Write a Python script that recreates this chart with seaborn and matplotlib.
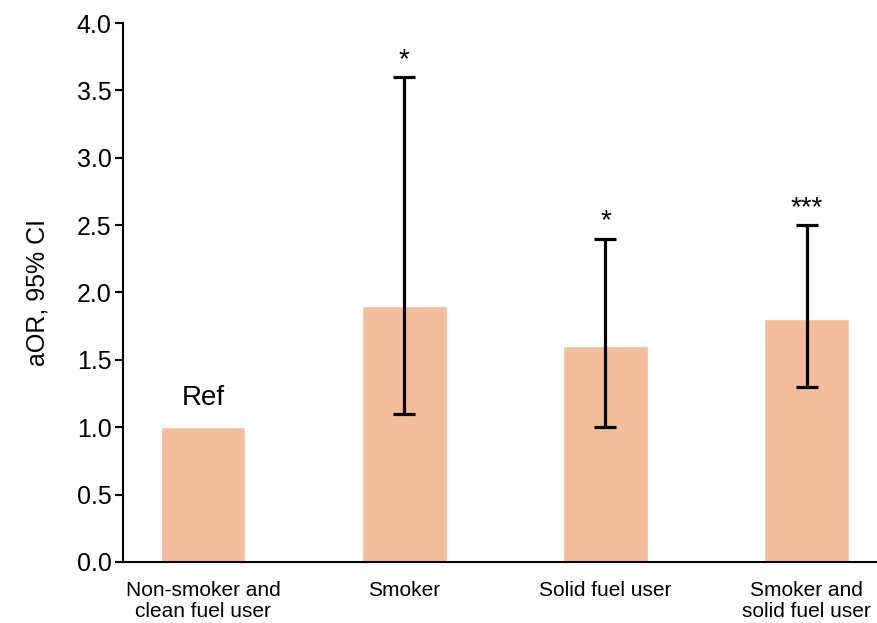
import pandas as pd
import seaborn as sns
import matplotlib.pyplot as plt

# Data
groups = ['Non-smoker and\nclean fuel user', 'Smoker', 'Solid fuel user', 'Smoker and\nsolid fuel user']
aor = [1.0, 1.9, 1.6, 1.8]
ci_low = [None, 1.1, 1.0, 1.3]
ci_high = [None, 3.6, 2.4, 2.5]
labels = ['Ref', '*', '*', '***']

df = pd.DataFrame({'group': groups, 'aor': aor})

sns.set_theme(style='ticks')
plt.rcParams['font.family'] = ['Liberation Sans', 'DejaVu Sans']
plt.rcParams['text.color'] = 'black'
plt.rcParams['axes.labelcolor'] = 'black'

fig = plt.figure(figsize=(8.77, 6.23), dpi=100)
ax = fig.add_axes([0.140, 0.098, 0.860, 0.865])

sns.barplot(data=df, x='group', y='aor', color='#F4BE9C', saturation=1, width=0.42, ax=ax)

for i in range(len(groups)):
    if ci_low[i] is not None:
        ax.errorbar(i, aor[i], yerr=[[aor[i] - ci_low[i]], [ci_high[i] - aor[i]]],
                    fmt='none', ecolor='black', elinewidth=2.3, capsize=8, capthick=2.3)
        ax.text(i, ci_high[i] + 0.03, labels[i], ha='center', va='bottom', fontsize=20)
    else:
        ax.text(i, aor[i] + 0.12, labels[i], ha='center', va='bottom', fontsize=20)

ax.set_ylim(0, 4.0)
ax.set_xlim(-0.4, 3.35)
ax.set_yticks([0, 0.5, 1.0, 1.5, 2.0, 2.5, 3.0, 3.5, 4.0])
ax.set_yticklabels([f'{v:.1f}' for v in ax.get_yticks()], fontsize=18)
ax.set_xlabel('')
ax.set_ylabel('aOR, 95% CI', fontsize=18, labelpad=20)
ax.tick_params(axis='x', length=0, labelsize=15, pad=14, labelcolor='black')
for lbl in ax.get_xticklabels():
    lbl.set_linespacing(1.1)
ax.tick_params(axis='y', length=6, width=1.5, color='black', labelcolor='black', pad=2)
for s in ['top', 'right']:
    ax.spines[s].set_visible(False)
ax.spines['left'].set_linewidth(1.5)
ax.spines['bottom'].set_linewidth(1.5)
ax.spines['left'].set_color('black')
ax.spines['bottom'].set_color('black')

fig.savefig('out.png', dpi=100)
